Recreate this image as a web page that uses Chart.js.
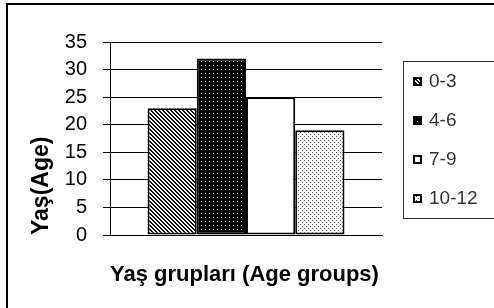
<!DOCTYPE html>
<html lang="tr">
<head>
    <meta charset="UTF-8">
    <title>Yaş grupları</title>
    <script src="https://cdn.jsdelivr.net/npm/chart.js"></script>
    <style>
        html, body { margin: 0; padding: 0; background: #fff; }
        .chart-container { width: 494px; height: 308px; position: relative; }
    </style>
</head>
<body>
    <div class="chart-container">
        <canvas id="graficoEdad"></canvas>
    </div>

    <script>
        // datos
        const categorias = [''];
        const grupos = ['0-3', '4-6', '7-9', '10-12'];
        const valores = [23, 32, 25, 19];
        const yTicks = [0, 5, 10, 15, 20, 25, 30, 35];

        // patrones tipo Excel
        function patron(size, pintar) {
            const c = document.createElement('canvas');
            c.width = size; c.height = size;
            const g = c.getContext('2d');
            pintar(g, size);
            return g.createPattern(c, 'repeat');
        }

        const rayas = patron(4, (g, s) => {
            g.fillStyle = '#fff'; g.fillRect(0, 0, s, s);
            g.fillStyle = '#000';
            for (let y = 0; y < s; y++) {
                for (let x = 0; x < s; x++) {
                    const d = ((x - y) % s + s) % s;
                    if (d === 0 || d === 1) g.fillRect(x, y, 1, 1);
                }
            }
        });
        const negroPuntos = patron(4, (g, s) => {
            g.fillStyle = '#000'; g.fillRect(0, 0, s, s);
            g.fillStyle = '#fff'; g.fillRect(1, 1, 1, 1);
        });
        const blancoPuntos = patron(4, (g, s) => {
            g.fillStyle = '#fff'; g.fillRect(0, 0, s, s);
            g.fillStyle = '#555';
            g.fillRect(0, 0, 1, 1);
            g.fillRect(2, 2, 1, 1);
        });
        const rellenos = [rayas, negroPuntos, '#ffffff', blancoPuntos];

        // marco exterior
        const marco = {
            id: 'marco',
            afterDraw(chart) {
                const c = chart.ctx;
                c.save();
                c.fillStyle = '#000';
                c.fillRect(6, 3, chart.width, 2);
                c.fillRect(6, 3, 2, chart.height);
                c.restore();
            }
        };

        // leyenda con recuadro
        const leyendaCaja = {
            id: 'leyendaCaja',
            afterDraw(chart) {
                const c = chart.ctx;
                const area = chart.chartArea;
                const left = area.right + 21;
                const mid = (area.top + area.bottom) / 2 + 1;
                const top = mid - 78.5;
                c.save();
                c.strokeStyle = '#333';
                c.lineWidth = 1;
                c.strokeRect(Math.round(left) + 0.5, Math.round(top) + 0.5, chart.width, 157);
                chart.data.datasets.forEach((ds, i) => {
                    const y = Math.round(mid + (i - 1.5) * 39.3);
                    c.fillStyle = ds.backgroundColor;
                    c.fillRect(left + 10, y - 4, 9, 9);
                    c.lineWidth = 2;
                    c.strokeStyle = '#000';
                    c.strokeRect(left + 11, y - 3, 7, 7);
                    c.fillStyle = '#333';
                    c.font = '19px "Liberation Sans", Arial, sans-serif';
                    c.textBaseline = 'middle';
                    c.textAlign = 'left';
                    c.fillText(ds.label, left + 26, y + 1);
                });
                c.restore();
            }
        };

        Chart.defaults.font.family = '"Liberation Sans", Arial, sans-serif';
        Chart.defaults.color = '#000';

        new Chart(document.getElementById('graficoEdad'), {
            type: 'bar',
            data: {
                labels: categorias,
                datasets: grupos.map((g, i) => ({
                    label: g,
                    data: [valores[i]],
                    backgroundColor: rellenos[i],
                    borderColor: '#000',
                    borderWidth: 2,
                    borderSkipped: false,
                }))
            },
            options: {
                responsive: true,
                maintainAspectRatio: false,
                animation: false,
                datasets: {
                    bar: { categoryPercentage: 0.724, barPercentage: 1 }
                },
                layout: { padding: { left: 8, top: 42, right: 112, bottom: 0 } },
                plugins: {
                    legend: { display: false },
                    tooltip: { enabled: false },
                },
                scales: {
                    x: {
                        grid: { display: false },
                        border: { display: true, color: '#000', width: 1 },
                        ticks: { display: false },
                        title: {
                            display: true,
                            text: 'Yaş grupları (Age groups)',
                            align: 'start',
                            font: { size: 22, weight: 'bold' },
                            padding: { top: 0, bottom: 20 },
                        },
                        afterFit(scale) { scale.height = 73; },
                    },
                    y: {
                        min: 0,
                        max: 35,
                        afterBuildTicks(scale) {
                            scale.ticks = yTicks.map(v => ({ value: v }));
                        },
                        grid: { color: '#000', lineWidth: 1, tickLength: 7 },
                        border: { color: '#000', width: 1 },
                        ticks: { font: { size: 20 }, padding: 16, color: '#000' },
                        title: {
                            display: true,
                            text: 'Yaş(Age)',
                            align: 'start',
                            font: { size: 23, weight: 'bold' },
                            padding: { top: 20, bottom: 0 },
                        },
                        afterFit(scale) { scale.width = 102; },
                    }
                }
            },
            plugins: [marco, leyendaCaja]
        });
    </script>
</body>
</html>
